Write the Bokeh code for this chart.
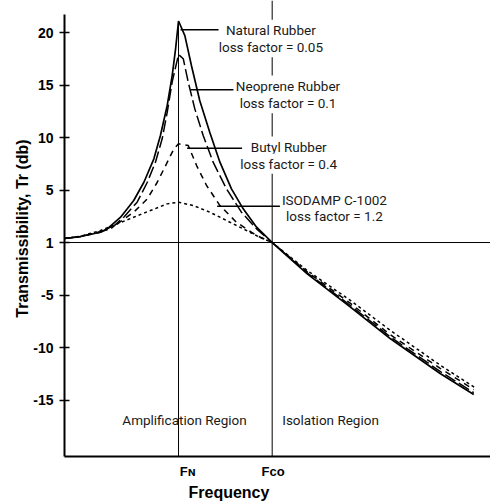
from bokeh.plotting import figure
from bokeh.models import Range1d, FixedTicker, Span, Label, Title
from bokeh.embed import file_html
from bokeh.resources import INLINE

# ---- data (frequency ratio f/FN, transmissibility in dB) ----
FN = 1.0
FCO = 1.414

natural_freq = [0.496, 0.567, 0.655, 0.685, 0.744, 0.802, 0.847, 0.891, 0.920, 0.950,
                0.972, 0.987, 1.0, 1.028, 1.057, 1.094, 1.138, 1.183, 1.234, 1.286,
                1.345, 1.414, 1.569, 1.760, 1.937, 2.158, 2.305]
natural_db = [0.38, 0.57, 0.98, 1.30, 2.41, 4.0, 5.74, 7.97, 10.19, 13.05,
              15.9, 18.45, 21.1, 19.71, 16.86, 13.5, 10.5, 7.65, 5.11, 3.21,
              1.46, 0.0, -2.98, -6.16, -9.17, -12.5, -14.48]

neoprene_freq = [0.496, 0.567, 0.700, 0.758, 0.817, 0.862, 0.898, 0.928, 0.950, 0.972,
                 1.0, 1.021, 1.043, 1.072, 1.109, 1.153, 1.212, 1.278, 1.345, 1.414,
                 1.569, 1.760, 1.937, 2.158, 2.305]
neoprene_db = [0.38, 0.57, 1.3, 2.41, 3.84, 5.74, 7.65, 9.9, 12.4, 15.3,
               17.9, 17.5, 15.27, 12.73, 10.19, 7.65, 5.11, 2.89, 1.3, 0.0,
               -2.9, -6.0, -9.0, -12.3, -14.3]

butyl_freq = [0.496, 0.567, 0.655, 0.729, 0.802, 0.862, 0.906, 0.943, 0.979, 1.0,
              1.043, 1.080, 1.124, 1.183, 1.256, 1.345, 1.414,
              1.569, 1.760, 1.937, 2.158, 2.305]
butyl_db = [0.38, 0.57, 0.98, 1.78, 2.89, 4.16, 5.74, 7.33, 8.9, 9.4,
            9.24, 7.33, 5.43, 3.52, 1.93, 0.67, 0.0,
            -2.8, -5.8, -8.8, -12.0, -14.0]

iso_freq = [0.496, 0.567, 0.655, 0.729, 0.802, 0.876, 0.950, 1.0,
            1.065, 1.138, 1.212, 1.286, 1.359, 1.414,
            1.569, 1.760, 1.937, 2.158, 2.312]
iso_db = [0.38, 0.6, 1.14, 1.78, 2.41, 3.05, 3.68, 3.84,
          3.52, 2.89, 2.1, 1.3, 0.5, 0.0,
          -2.67, -5.52, -8.38, -11.7, -13.84]

y_ticks = [20, 15, 10, 5, 0, -5, -10, -15]
y_tick_labels = ["20", "15", "10", "5", "1", "-5", "-10", "-15"]

x_tick_labels = ["F\u0274", "F\u1d04\u1d0f"]   # F with small-cap N / co

materials = ["Natural Rubber", "Neoprene Rubber", "Butyl Rubber", "ISODAMP C-1002"]
loss_factors = ["0.05", "0.1", "0.4", "1.2"]

# ---- figure ----
Y0, Y1 = -20.38, 23.05
p = figure(width=490, height=502, output_backend="svg", toolbar_location=None,
           x_range=Range1d(0.496, 2.379), y_range=Range1d(Y0, Y1),
           min_border_left=64, min_border_right=0, min_border_top=0,
           min_border_bottom=46)
p.outline_line_color = None
p.xgrid.visible = False
p.ygrid.visible = False
p.background_fill_color = "white"

BOLD = "Liberation Sans"

ya = p.yaxis[0]
ya.ticker = FixedTicker(ticks=y_ticks)
ya.major_label_overrides = {t: l for t, l in zip(y_ticks, y_tick_labels)}
ya.bounds = (Y0, 21.7)
ya.axis_line_width = 2
ya.major_tick_in = 5
ya.major_tick_out = 5
ya.major_tick_line_width = 1.5
ya.minor_tick_line_color = None
ya.major_label_text_font = BOLD
ya.major_label_text_font_style = "bold"
ya.major_label_text_font_size = "14px"
ya.major_label_text_color = "black"
ya.major_label_standoff = 6

xa = p.xaxis[0]
x_tick_pos = [FN + 0.041, FCO + 0.004]   # label centres (labels sit right of FN)
xa.ticker = FixedTicker(ticks=x_tick_pos)
xa.major_label_overrides = {t: l for t, l in zip(x_tick_pos, x_tick_labels)}
xa.axis_line_width = 2
xa.major_tick_in = 0
xa.major_tick_out = 0
xa.major_tick_line_color = None
xa.minor_tick_line_color = None
xa.major_label_text_font = BOLD
xa.major_label_text_font_style = "bold"
xa.major_label_text_font_size = "13px"
xa.major_label_text_color = "black"
xa.major_label_standoff = 7

p.add_layout(Title(text="Frequency", align="left", offset=124, standoff=0,
                   text_font=BOLD, text_font_style="bold", text_font_size="16px",
                   text_color="black"), "below")
p.add_layout(Title(text="Transmissibility, Tr (db)", align="center", offset=-7, standoff=0,
                   text_font=BOLD, text_font_style="bold", text_font_size="16px",
                   text_color="black"), "left")

# reference lines
p.add_layout(Span(location=0, dimension="width", line_color="black", line_width=1))
p.segment(x0=[FN], y0=[Y0], x1=[FN], y1=[max(natural_db)], line_color="black", line_width=1)
p.add_layout(Span(location=FCO, dimension="height", line_color="black", line_width=1))

# curves
p.line(natural_freq, natural_db, line_color="black", line_width=1.7)
p.line(neoprene_freq, neoprene_db, line_color="black", line_width=1.5, line_dash="12 4")
p.line(butyl_freq, butyl_db, line_color="black", line_width=1.5, line_dash="6 5")
p.line(iso_freq, iso_db, line_color="black", line_width=1.5, line_dash="3 3")

# leader lines
lead_y = [20.26, 14.54, 8.98, 3.46]
lead_x0 = [1.009, 1.053, 1.038, 1.171]
lead_x1 = [1.177, 1.243, 1.281, 1.451]
p.segment(x0=lead_x0, y0=lead_y, x1=lead_x1, y1=lead_y, line_color="black", line_width=1.5)

NARROW = "Roboto"
lab_x = [1.408, 1.484, 1.487, 1.689]
lab_y1 = [20.26, 14.95, 9.14, 4.07]
lab_y2 = [18.60, 13.27, 7.50, 2.48]
for m, lf, lx, y1, y2 in zip(materials, loss_factors, lab_x, lab_y1, lab_y2):
    for txt, yy in ((m, y1), ("loss factor = " + lf, y2)):
        p.add_layout(Label(x=lx, y=yy, text=txt, text_align="center",
                           text_baseline="alphabetic", text_font=NARROW,
                           text_font_size="13.5px", text_color="#1a1a1a",
                           background_fill_color="white", padding=2))

for txt, lx in (("Amplification Region", 1.0265), ("Isolation Region", 1.672)):
    p.add_layout(Label(x=lx, y=-16.95, text=txt, text_align="center",
                       text_baseline="alphabetic", text_font=NARROW,
                       text_font_size="13.5px", text_color="#1a1a1a"))

open("out.html", "w").write(file_html(p, INLINE))
